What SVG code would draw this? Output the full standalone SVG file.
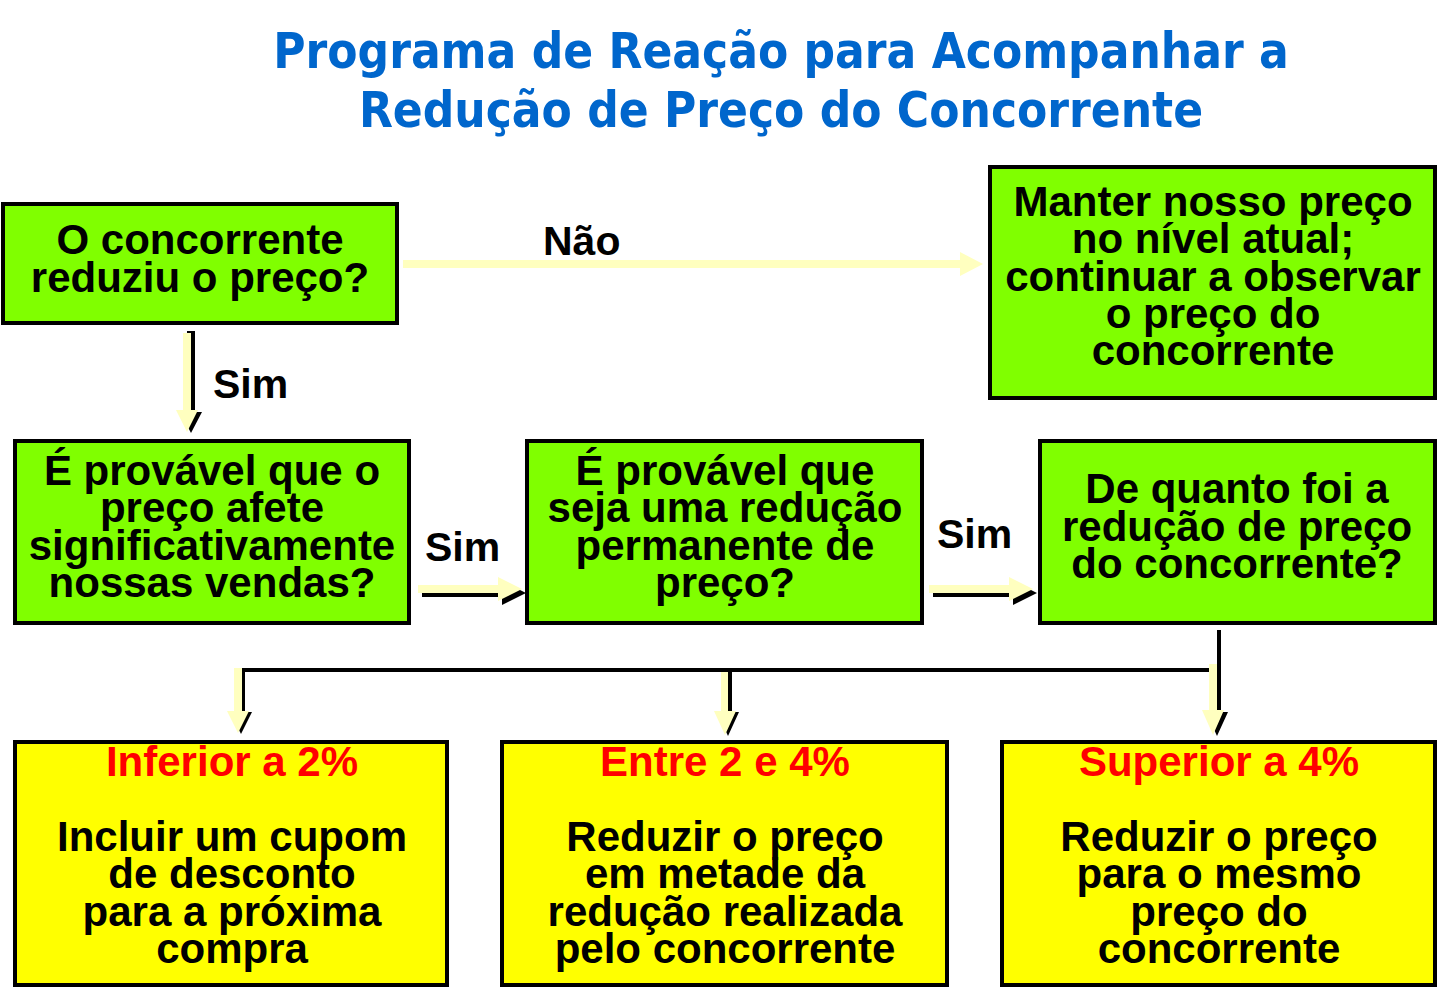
<svg xmlns="http://www.w3.org/2000/svg" width="1444" height="999" viewBox="0 0 1444 999">
<defs>
<style>
.title{font-family:"DejaVu Sans Condensed","DejaVu Sans",sans-serif;font-weight:bold;font-size:49px;fill:#0066CC;text-anchor:middle}
.t{font-family:"Liberation Sans",Arial,sans-serif;font-weight:bold;font-size:42px;fill:#000;text-anchor:middle}
.r{fill:#FF0000}
.lbl{font-family:"Liberation Sans",Arial,sans-serif;font-weight:bold;font-size:41px;fill:#000}
.g{fill:#80FF00;stroke:#000;stroke-width:4}
.y{fill:#FFFF00;stroke:#000;stroke-width:4}
.ay{fill:#FFFFBF}
.as{fill:#000}
</style>
</defs>
<rect width="1444" height="999" fill="#fff"/>
<text class="title" x="781" y="68">Programa de Reação para Acompanhar a</text>
<text class="title" x="781" y="127">Redução de Preço do Concorrente</text>

<g id="connectors">
  <!-- Não arrow -->
  <polygon class="ay" points="403,260 960,260 960,252 983,264 960,276 960,268 403,268"/>
  <text class="lbl" x="543" y="255">Não</text>
  <!-- Sim vertical -->
  <polygon class="as" points="187,331 195,331 195,412 202,412 191,433 180,412 187,412"/>
  <polygon class="ay" points="183,333 191,333 191,410 198,410 187,432 176,410 183,410"/>
  <text class="lbl" x="213" y="398">Sim</text>
  <!-- Sim horizontal 1 -->
  <polygon class="as" points="422,589 502,589 502,581 526,593 502,605 502,597 422,597"/>
  <polygon class="ay" points="418,585 498,585 498,577 522,589 498,601 498,593 418,593"/>
  <text class="lbl" x="425" y="561">Sim</text>
  <!-- Sim horizontal 2 -->
  <polygon class="as" points="933,589 1013,589 1013,581 1037,593 1013,605 1013,597 933,597"/>
  <polygon class="ay" points="929,585 1009,585 1009,577 1033,589 1009,601 1009,593 929,593"/>
  <text class="lbl" x="937" y="548">Sim</text>
  <!-- bottom bus -->
  <line x1="1219" y1="630" x2="1219" y2="672" stroke="#000" stroke-width="4"/>
  <line x1="240" y1="670" x2="1221" y2="670" stroke="#000" stroke-width="4"/>
  <!-- down arrows -->
  <polygon class="as" points="237,670 245,670 245,712 252,712 241,734 230,712 237,712"/>
  <polygon class="ay" points="234,668 242,668 242,711 249,711 238,733 227,711 234,711"/>
  <polygon class="as" points="724,670 732,670 732,712 739,712 728,736 717,712 724,712"/>
  <polygon class="ay" points="721,672 728,672 728,711 736,711 725,735 714,711 721,711"/>
  <polygon class="as" points="1213,666 1221,666 1221,712 1228,712 1217,736 1206,712 1213,712"/>
  <polygon class="ay" points="1209,664 1217,664 1217,710 1224,710 1213,735 1202,710 1209,710"/>
</g>

<g id="n1">
  <rect class="g" x="3" y="204" width="394" height="119"/>
  <text class="t" x="200" y="254">O concorrente</text>
  <text class="t" x="200" y="292">reduziu o preço?</text>
</g>
<g id="n2">
  <rect class="g" x="990" y="167" width="445" height="231"/>
  <text class="t" x="1213" y="216">Manter nosso preço</text>
  <text class="t" x="1213" y="253">no nível atual;</text>
  <text class="t" x="1213" y="291">continuar a observar</text>
  <text class="t" x="1213" y="328">o preço do</text>
  <text class="t" x="1213" y="365">concorrente</text>
</g>
<g id="n3">
  <rect class="g" x="15" y="441" width="394" height="182"/>
  <text class="t" x="212" y="485">É provável que o</text>
  <text class="t" x="212" y="522">preço afete</text>
  <text class="t" x="212" y="560">significativamente</text>
  <text class="t" x="212" y="597">nossas vendas?</text>
</g>
<g id="n4">
  <rect class="g" x="527" y="441" width="395" height="182"/>
  <text class="t" x="725" y="485">É provável que</text>
  <text class="t" x="725" y="522">seja uma redução</text>
  <text class="t" x="725" y="560">permanente de</text>
  <text class="t" x="725" y="597">preço?</text>
</g>
<g id="n5">
  <rect class="g" x="1040" y="441" width="395" height="182"/>
  <text class="t" x="1237" y="503">De quanto foi a</text>
  <text class="t" x="1237" y="541">redução de preço</text>
  <text class="t" x="1237" y="578">do concorrente?</text>
</g>
<g id="n6">
  <rect class="y" x="15" y="742" width="432" height="243"/>
  <text class="t r" x="232" y="776">Inferior a 2%</text>
  <text class="t" x="232" y="851">Incluir um cupom</text>
  <text class="t" x="232" y="888">de desconto</text>
  <text class="t" x="232" y="926">para a próxima</text>
  <text class="t" x="232" y="963">compra</text>
</g>
<g id="n7">
  <rect class="y" x="502" y="742" width="445" height="243"/>
  <text class="t r" x="725" y="776">Entre 2 e 4%</text>
  <text class="t" x="725" y="851">Reduzir o preço</text>
  <text class="t" x="725" y="888">em metade da</text>
  <text class="t" x="725" y="926">redução realizada</text>
  <text class="t" x="725" y="963">pelo concorrente</text>
</g>
<g id="n8">
  <rect class="y" x="1002" y="742" width="433" height="243"/>
  <text class="t r" x="1219" y="776">Superior a 4%</text>
  <text class="t" x="1219" y="851">Reduzir o preço</text>
  <text class="t" x="1219" y="888">para o mesmo</text>
  <text class="t" x="1219" y="926">preço do</text>
  <text class="t" x="1219" y="963">concorrente</text>
</g>
</svg>
